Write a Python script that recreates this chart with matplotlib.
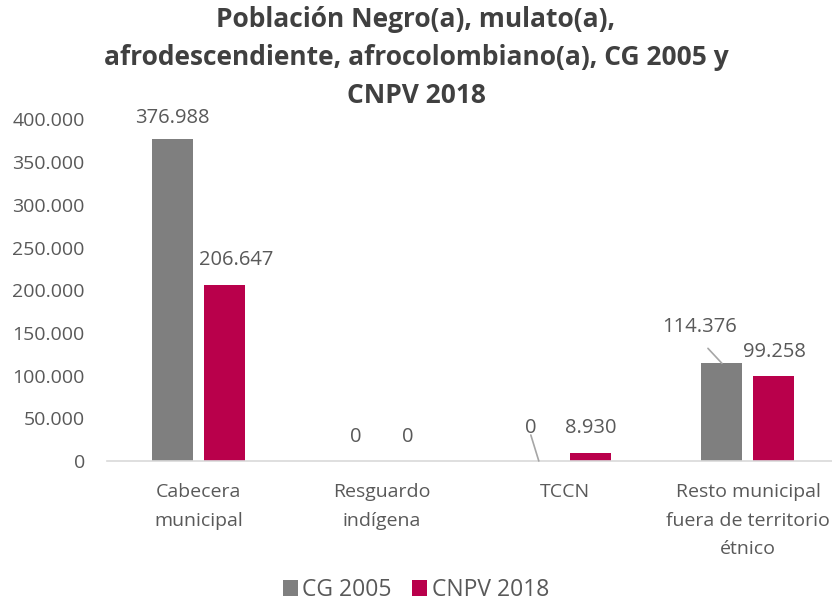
import matplotlib.pyplot as plt
import numpy as np
from matplotlib.ticker import FuncFormatter

# Población por área, CG 2005 vs CNPV 2018
categories = ['Cabecera\nmunicipal', 'Resguardo\nindígena', 'TCCN',
              'Resto municipal\nfuera de territorio\nétnico']
cg2005 = [376988, 0, 0, 114376]
cnpv2018 = [206647, 0, 8930, 99258]
series_names = ['CG 2005', 'CNPV 2018']

plt.rcParams['font.family'] = ['Open Sans', 'DejaVu Sans']
text_color = '#595959'
title_color = '#404040'
colors = ['#7f7f7f', '#b9004b']
PT = 0.72  # points per pixel at dpi 100

fig = plt.figure(figsize=(8.32, 6.04), dpi=100)
ax = fig.add_axes([107 / 832, 1 - 461 / 604, 1 - 107 / 832, 341.5 / 604])

x = np.arange(len(categories))
w = 0.224
off = 0.142
bars1 = ax.bar(x - off, cg2005, w, color=colors[0], label=series_names[0])
bars2 = ax.bar(x + off, cnpv2018, w, color=colors[1], label=series_names[1])

ax.set_xlim(-0.5, 3.459)
ax.set_ylim(0, 400000)
ax.set_yticks(np.arange(0, 400001, 50000))
ax.yaxis.set_major_formatter(FuncFormatter(lambda v, p: f'{int(v):,}'.replace(',', '.')))
ax.set_xticks(x)
ax.set_xticklabels(categories, linespacing=1.74)
ax.tick_params(axis='y', length=0, pad=16, labelsize=14, labelcolor=text_color)
ax.tick_params(axis='x', length=0, pad=16, labelsize=14, labelcolor=text_color)
for s in ['left', 'right', 'top']:
    ax.spines[s].set_visible(False)
ax.spines['bottom'].set_color('#d9d9d9')
ax.spines['bottom'].set_linewidth(1.2)


def fmt(v):
    return f'{v:,}'.replace(',', '.')


# label offsets in pixels (dx, dy) from the bar top; leader = start of the connector
label_pos1 = [(0, 21), (0, 24), (-8, 33), (-22, 36)]
leader1 = [None, None, (-8, 26), (-14, 15)]
label_pos2 = [(12, 25), (0, 24), (0, 25), (0, 24)]
leader2 = [None, None, None, None]

for bars, vals, pos, leads in [(bars1, cg2005, label_pos1, leader1),
                               (bars2, cnpv2018, label_pos2, leader2)]:
    for bar, val, (dx, dy), lead in zip(bars, vals, pos, leads):
        xc = bar.get_x() + bar.get_width() / 2
        ax.annotate(fmt(val), (xc, val), xytext=(dx * PT, dy * PT),
                    textcoords='offset points', ha='center', va='center',
                    fontsize=14.5, color=text_color, annotation_clip=False)
        if lead is not None:
            ax.annotate('', (xc, val), xytext=(lead[0] * PT, lead[1] * PT),
                        textcoords='offset points',
                        arrowprops=dict(arrowstyle='-', color='#a6a6a6', lw=1.2,
                                        shrinkA=0, shrinkB=0))

fig.suptitle('Población Negro(a), mulato(a),\nafrodescendiente, afrocolombiano(a), CG 2005 y\nCNPV 2018',
             x=0.5, y=1 - 6 / 604, fontsize=19, fontweight='bold', color=title_color,
             linespacing=1.52, va='top')

fig.legend(handles=[bars1, bars2], labels=series_names, loc='center',
           bbox_to_anchor=(0.5, 1 - 590 / 604), ncol=2, frameon=False,
           fontsize=16.5, labelcolor=text_color, handlelength=0.65, handleheight=0.65,
           handletextpad=0.2, columnspacing=0.9, borderpad=0.1)

fig.savefig('out.png', dpi=100)
